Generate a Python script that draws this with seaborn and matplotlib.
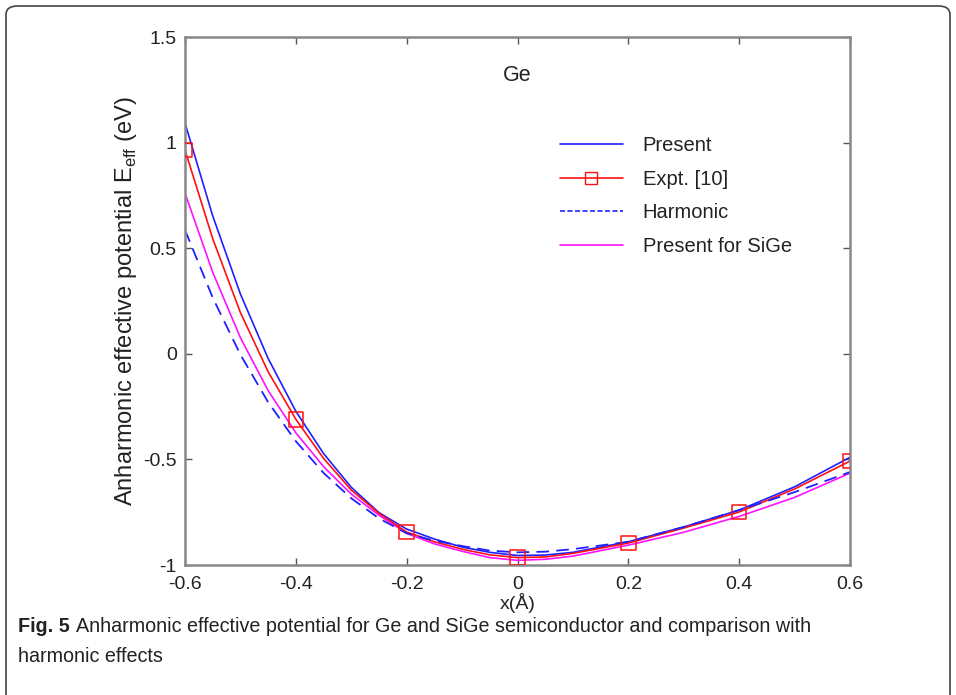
import matplotlib
matplotlib.use("Agg")
import matplotlib.pyplot as plt
import seaborn as sns
import pandas as pd
from matplotlib.lines import Line2D
from matplotlib.patches import FancyBboxPatch

# ---- data ----
x_curve = [-0.6, -0.55, -0.5, -0.45, -0.4, -0.35, -0.3, -0.25, -0.2, -0.15, -0.1, -0.05,
           0.0, 0.05, 0.1, 0.2, 0.3, 0.4, 0.5, 0.6]
present = [1.093, 0.653, 0.283, -0.022, -0.272, -0.472, -0.632, -0.752, -0.83, -0.877, -0.915, -0.94,
           -0.955, -0.953, -0.94, -0.89, -0.82, -0.74, -0.63, -0.49]
expt_curve = [0.965, 0.545, 0.195, -0.085, -0.31, -0.495, -0.645, -0.755, -0.844, -0.89, -0.925, -0.952,
              -0.965, -0.962, -0.945, -0.896, -0.825, -0.749, -0.64, -0.508]
harmonic = [0.586, 0.266, -0.004, -0.229, -0.414, -0.564, -0.684, -0.779, -0.85, -0.885, -0.91, -0.932,
            -0.94, -0.937, -0.925, -0.89, -0.82, -0.74, -0.655, -0.56]
sige = [0.761, 0.386, 0.076, -0.174, -0.374, -0.534, -0.664, -0.764, -0.85, -0.90, -0.935, -0.965,
        -0.978, -0.973, -0.958, -0.906, -0.845, -0.77, -0.68, -0.565]

x_expt = [-0.6, -0.4, -0.2, 0.0, 0.2, 0.4, 0.6]
expt_pts = [0.965, -0.31, -0.844, -0.965, -0.896, -0.749, -0.508]

x_ticks = [-0.6, -0.4, -0.2, 0.0, 0.2, 0.4, 0.6]
x_ticklabels = ["-0.6", "-0.4", "-0.2", "0", "0.2", "0.4", "0.6"]
y_ticks = [-1.0, -0.5, 0.0, 0.5, 1.0, 1.5]
y_ticklabels = ["-1", "-0.5", "0", "0.5", "1", "1.5"]

labels = ["Present", "Expt. [10]", "Harmonic", "Present for SiGe"]

sns.set_theme(style="white")
plt.rcParams["font.family"] = ["Liberation Sans", "DejaVu Sans"]

fig = plt.figure(figsize=(9.56, 6.95), dpi=100)
ax = fig.add_axes([185/956, 1-565/695, (850-185)/956, (565-37)/695])

df = pd.DataFrame({"x": x_curve, "present": present, "expt": expt_curve,
                   "harm": harmonic, "sige": sige})

kw = dict(ax=ax, sort=False, solid_joinstyle="round", solid_capstyle="round")
sns.lineplot(data=df, x="x", y="present", color="#1f1fff", lw=1.2, **kw)
sns.lineplot(data=df, x="x", y="sige", color="#ff10ff", lw=1.2, **kw)
sns.lineplot(data=df, x="x", y="expt", color="#ff1010", lw=1.2, **kw)
sns.lineplot(data=df, x="x", y="harm", ax=ax, color="#2020ff", lw=1.3, sort=False,
             linestyle=(0, (7, 4)))
sns.scatterplot(x=x_expt, y=expt_pts, ax=ax, marker="s", s=110,
                facecolor="none", edgecolor="#ff1010", linewidth=1.1, zorder=5)

ax.set_xlim(-0.6, 0.6)
ax.set_ylim(-1.0, 1.5)
ax.set_xticks(x_ticks)
ax.set_xticklabels(x_ticklabels)
ax.set_yticks(y_ticks)
ax.set_yticklabels(y_ticklabels)
ax.tick_params(direction="in", length=5, width=1, color="#555555",
               labelsize=14, labelcolor="#222222", top=True, right=True,
               bottom=True, left=True)
ax.tick_params(axis="x", pad=8)
ax.tick_params(axis="y", pad=6)
for sp in ax.spines.values():
    sp.set_color("#888888")
    sp.set_linewidth(1.8)

ax.set_xlabel("x(Å)", fontsize=14, color="#222222", labelpad=0)
ax.set_ylabel(r"Anharmonic effective potential E$_{\mathregular{eff}}$ (eV)",
              fontsize=17, color="#222222", labelpad=3)

ax.text(0.0, 1.32, "Ge", ha="center", va="center", fontsize=15.5, color="#222222")

handles = [
    Line2D([], [], color="#1f1fff", lw=1.2),
    Line2D([], [], color="#ff1010", lw=1.2, marker="s", markersize=8,
           markerfacecolor="none", markeredgecolor="#ff1010"),
    Line2D([], [], color="#2020ff", lw=1.2, linestyle=(0, (3, 1.5))),
    Line2D([], [], color="#ff10ff", lw=1.2),
]
leg = ax.legend(handles, labels, loc="upper left", bbox_to_anchor=(0.537, 0.847),
                frameon=False, fontsize=14.5, handlelength=3.1, handletextpad=1.0,
                labelspacing=0.73)
for t in leg.get_texts():
    t.set_color("#222222")

# outer rounded frame
box = FancyBboxPatch((6/956, -0.1), (950-6)/956, (1.1 - 6/695),
                     boxstyle="round,pad=0,rounding_size=0.012",
                     transform=fig.transFigure, fill=False,
                     edgecolor="#444444", lw=1.2, clip_on=False)
fig.patches.append(box)

# caption
cap_fam = ["Liberation Sans", "DejaVu Sans"]
cap_fs = 14.2
t1 = fig.text(18/956, 1-627/695, "Fig. 5", fontsize=cap_fs, fontweight="bold",
              family=cap_fam, va="center", ha="left", color="#222222")
fig.canvas.draw()
bb = t1.get_window_extent(renderer=fig.canvas.get_renderer())
x_after = (bb.x1 + 6) / fig.bbox.width
fig.text(x_after, 1-627/695,
         "Anharmonic effective potential for Ge and SiGe semiconductor and comparison with",
         fontsize=cap_fs, family=cap_fam, va="center", ha="left", color="#222222")
fig.text(18/956, 1-657/695, "harmonic effects", fontsize=cap_fs, family=cap_fam,
         va="center", ha="left", color="#222222")

fig.savefig("out.png", dpi=100)
